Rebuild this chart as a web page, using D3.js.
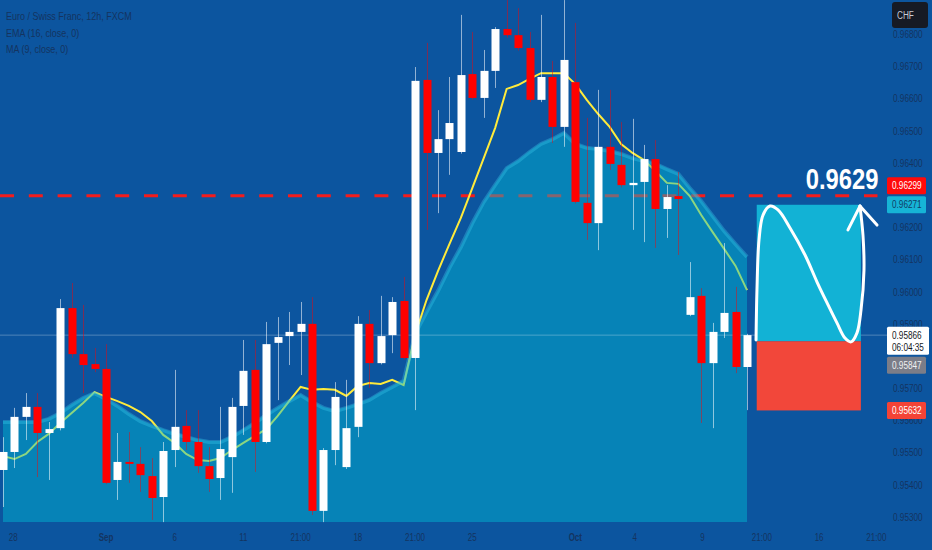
<!DOCTYPE html>
<html>
<head>
<meta charset="utf-8">
<script src="https://cdn.jsdelivr.net/npm/d3@7"></script>
<style>
html, body { margin: 0; padding: 0; background: #0c559f; overflow: hidden; }
text { font-family: "Liberation Sans", Arial, sans-serif; }
</style>
</head>
<body>
<svg width="932" height="550"></svg>
<script>
// 12h candles, [open, high, low, close]
const ohlc = [
  [0.95447, 0.95549, 0.95332, 0.95503], [0.95503, 0.95640, 0.95453, 0.95612],
  [0.95612, 0.95686, 0.95540, 0.95643], [0.95643, 0.95686, 0.95425, 0.95562],
  [0.95562, 0.95596, 0.95416, 0.95574], [0.95577, 0.95978, 0.95570, 0.95950],
  [0.95950, 0.96028, 0.95795, 0.95807], [0.95807, 0.95960, 0.95686, 0.95773],
  [0.95776, 0.95826, 0.95751, 0.95761], [0.95761, 0.95838, 0.95403, 0.95407],
  [0.95416, 0.95562, 0.95354, 0.95472], [0.95472, 0.95565, 0.95407, 0.95466],
  [0.95466, 0.95518, 0.95379, 0.95431], [0.95428, 0.95484, 0.95292, 0.95360],
  [0.95363, 0.95534, 0.95285, 0.95506], [0.95509, 0.95758, 0.95456, 0.95581],
  [0.95584, 0.95633, 0.95509, 0.95534], [0.95534, 0.95633, 0.95438, 0.95459],
  [0.95459, 0.95518, 0.95379, 0.95419], [0.95422, 0.95643, 0.95354, 0.95512],
  [0.95487, 0.95671, 0.95376, 0.95643], [0.95646, 0.95851, 0.95556, 0.95755],
  [0.95758, 0.95851, 0.95441, 0.95534], [0.95534, 0.95907, 0.95530, 0.95838],
  [0.95842, 0.95922, 0.95664, 0.95860], [0.95863, 0.95938, 0.95773, 0.95876],
  [0.95876, 0.95969, 0.95742, 0.95901], [0.95901, 0.95984, 0.95307, 0.95320],
  [0.95320, 0.95515, 0.95285, 0.95509], [0.95509, 0.95720, 0.95462, 0.95674],
  [0.95456, 0.95727, 0.95450, 0.95577], [0.95581, 0.95925, 0.95549, 0.95901],
  [0.95901, 0.95944, 0.95702, 0.95779], [0.95779, 0.95988, 0.95775, 0.95863],
  [0.95866, 0.95984, 0.95810, 0.95969], [0.95972, 0.96047, 0.95790, 0.95795],
  [0.95795, 0.96699, 0.95633, 0.96656], [0.96659, 0.96774, 0.96193, 0.96432],
  [0.96432, 0.96565, 0.96245, 0.96475], [0.96475, 0.96668, 0.96364, 0.96525],
  [0.96435, 0.96861, 0.96430, 0.96674], [0.96677, 0.96808, 0.96598, 0.96603],
  [0.96603, 0.96752, 0.96541, 0.96687], [0.96687, 0.96823, 0.96634, 0.96817],
  [0.96817, 0.96907, 0.96790, 0.96798], [0.96798, 0.96882, 0.96750, 0.96758],
  [0.96758, 0.96808, 0.96590, 0.96597], [0.96597, 0.96861, 0.96590, 0.96668],
  [0.96668, 0.96718, 0.96463, 0.96513], [0.96513, 0.96907, 0.96451, 0.96721],
  [0.96652, 0.96836, 0.96275, 0.96280], [0.96277, 0.96541, 0.96162, 0.96214],
  [0.96214, 0.96628, 0.96130, 0.96451], [0.96451, 0.96628, 0.96379, 0.96398],
  [0.96395, 0.96528, 0.96325, 0.96332], [0.96332, 0.96538, 0.96193, 0.96339],
  [0.96342, 0.96457, 0.96155, 0.96413], [0.96413, 0.96472, 0.96137, 0.96258],
  [0.96258, 0.96332, 0.96168, 0.96295], [0.96298, 0.96373, 0.96115, 0.96289],
  [0.95929, 0.96093, 0.95925, 0.95984], [0.95988, 0.96012, 0.95593, 0.95779],
  [0.95779, 0.95904, 0.95577, 0.95876], [0.95876, 0.96152, 0.95857, 0.95935],
  [0.95938, 0.96016, 0.95748, 0.95767], [0.95767, 0.95870, 0.95633, 0.95866]
];

// MA (9) - yellow line
const ma9 = [
  0.95490, 0.95481, 0.95497, 0.95534, 0.95559, 0.95593, 0.95624, 0.95655, 0.95689, 0.95674,
  0.95661, 0.95646, 0.95627, 0.95599, 0.95556, 0.95531, 0.95497, 0.95478, 0.95475, 0.95484,
  0.95509, 0.95531, 0.95553, 0.95574, 0.95615, 0.95661, 0.95705, 0.95696, 0.95699, 0.95696,
  0.95677, 0.95708, 0.95717, 0.95714, 0.95727, 0.95711, 0.95866, 0.95975, 0.96065, 0.96149,
  0.96230, 0.96323, 0.96416, 0.96510, 0.96631, 0.96643, 0.96662, 0.96680, 0.96680, 0.96680,
  0.96646, 0.96597, 0.96553, 0.96513, 0.96460, 0.96432, 0.96410, 0.96376, 0.96339, 0.96336,
  0.96298, 0.96239, 0.96186, 0.96134, 0.96081, 0.96006
];

// EMA (16) - shaded area
const ema16 = [
  0.95599, 0.95599, 0.95599, 0.95599, 0.95609, 0.95627, 0.95652, 0.95674, 0.95689, 0.95671,
  0.95649, 0.95624, 0.95602, 0.95587, 0.95574, 0.95562, 0.95553, 0.95543, 0.95537, 0.95537,
  0.95553, 0.95574, 0.95596, 0.95621, 0.95643, 0.95664, 0.95683, 0.95661, 0.95643, 0.95633,
  0.95643, 0.95655, 0.95668, 0.95689, 0.95708, 0.95727, 0.95873, 0.95941, 0.96006, 0.96078,
  0.96143, 0.96217, 0.96283, 0.96336, 0.96388, 0.96410, 0.96438, 0.96463, 0.96478, 0.96497,
  0.96463, 0.96451, 0.96447, 0.96441, 0.96432, 0.96419, 0.96410, 0.96401, 0.96385, 0.96370,
  0.96326, 0.96286, 0.96239, 0.96193, 0.96152, 0.96112
];

const priceTicks = [0.953, 0.954, 0.955, 0.956, 0.957, 0.958, 0.959, 0.960,
  0.961, 0.962, 0.963, 0.964, 0.965, 0.966, 0.967, 0.968];

// time axis: [bar index, label, bold]
const timeTicks = [
  [0.9, "28", false], [9, "Sep", true], [15, "6", false], [21, "11", false],
  [26, "21:00", false], [31, "18", false], [36, "21:00", false], [41, "25", false],
  [50, "Oct", true], [55.2, "4", false], [61.1, "9", false], [66.3, "21:00", false],
  [71.3, "16", false], [76.3, "21:00", false]
];

const legendLines = ["Euro / Swiss Franc, 12h, FXCM", "EMA (16, close, 0)", "MA (9, close, 0)"];

const resistance = { price: 0.96299, toIndex: 76.4, label: "0.9629" };
const lastPrice = { price: 0.95866, countdown: "06:04:35" };
const position = { from: 65.85, to: 74.95, target: 0.96271, entry: 0.95847, stop: 0.95632 };

// hand drawn path on the position tool: [bar index, price]
const scribble = [
  [65.79, 0.95851], [65.87, 0.96006], [66.05, 0.96162], [66.40, 0.96239], [67.01, 0.96267],
  [67.71, 0.96255], [68.76, 0.96199], [70.07, 0.96115], [71.12, 0.96031], [72.08, 0.95960],
  [72.86, 0.95904], [73.56, 0.95857], [74.09, 0.95845], [74.61, 0.95873], [74.96, 0.95944],
  [75.22, 0.96068], [75.13, 0.96177], [74.87, 0.96267]
];
const arrowBarbs = [[73.82, 0.96193], [76.36, 0.96208]];

const svg = d3.select("svg");
const width = +svg.attr("width");
const height = +svg.attr("height");
const paneBottom = 522;
const paneRight = 887;

const x = d3.scaleLinear().domain([0, 65]).range([3, 747]);
const y = d3.scaleLinear().domain([0.953, 0.967]).range([517.3, 66.7]);

const navy = "#14345f";

function condense(sel, k) {
  sel.each(function () {
    const w = this.getComputedTextLength();
    d3.select(this).attr("textLength", w * k).attr("lengthAdjust", "spacingAndGlyphs");
  });
}

svg.append("rect").attr("width", width).attr("height", height).attr("fill", "#0c559f");

// price tags on the scale, lower rank gives way
const tags = [
  { price: resistance.price, lines: ["0.96299"], fill: "#ff0a0a", ink: "#ffffff", rank: 1 },
  { price: position.target, lines: ["0.96271"], fill: "#16b4d6", ink: "#113c66", rank: 2 },
  { price: lastPrice.price, lines: ["0.95866", lastPrice.countdown], fill: "#ffffff", ink: "#131722", rank: 3 },
  { price: position.entry, lines: ["0.95847"], fill: "#7b7d88", ink: "#f0f0f0", rank: 1 },
  { price: position.stop, lines: ["0.95632"], fill: "#f44336", ink: "#ffffff", rank: 2 }
];
tags.forEach(t => { t.h = t.lines.length > 1 ? 28 : 17; t.top = y(t.price) - 8.5; });
tags.sort((a, b) => a.top - b.top);
for (let k = 1; k < tags.length; k++) {
  const a = tags[k - 1], b = tags[k];
  const overlap = a.top + a.h + 2 - b.top;
  if (overlap > 0) {
    if (a.rank >= b.rank) b.top += overlap;
    else a.top -= overlap;
  }
}

// price scale labels; the ones whose centre sits under a tag or the badge are skipped
const covered = v => y(v) < 30 || tags.some(t => y(v) >= t.top - 1 && y(v) <= t.top + t.h + 1);
svg.append("g").selectAll("text")
  .data(priceTicks.filter(v => !covered(v)))
  .join("text")
  .attr("x", 893)
  .attr("y", d => y(d) + 3.5)
  .attr("font-size", 10)
  .attr("fill", navy)
  .text(d => d3.format(".5f")(d))
  .call(condense, 0.82);

// resistance dashed ray (under the area)
svg.append("line")
  .attr("x1", 0).attr("x2", x(resistance.toIndex))
  .attr("y1", y(resistance.price)).attr("y2", y(resistance.price))
  .attr("stroke", "#f51c1c")
  .attr("stroke-width", 3)
  .attr("stroke-dasharray", "14,14.8");

// MA line (sits under the translucent area, so it turns green inside it)
svg.append("path")
  .datum(ma9)
  .attr("fill", "none")
  .attr("stroke", "#ffeb3b")
  .attr("stroke-width", 2)
  .attr("d", d3.line().x((d, i) => x(i)).y(d => y(d)));

// EMA area
svg.append("path")
  .datum(ema16)
  .attr("fill", "rgba(0,188,212,0.45)")
  .attr("d", d3.area().x((d, i) => x(i)).y0(paneBottom).y1(d => y(d)));

svg.append("path")
  .datum(ema16)
  .attr("fill", "none")
  .attr("stroke", "rgba(60,200,235,0.35)")
  .attr("stroke-width", 4)
  .attr("d", d3.line().x((d, i) => x(i)).y(d => y(d) + 1));

// last price line
svg.append("line")
  .attr("x1", 0).attr("x2", paneRight)
  .attr("y1", y(lastPrice.price)).attr("y2", y(lastPrice.price))
  .attr("stroke", "rgba(255,255,255,0.28)")
  .attr("stroke-width", 1);

// candles
const candle = svg.append("g").selectAll("g")
  .data(ohlc)
  .join("g");

candle.append("line")
  .attr("x1", (d, i) => Math.round(x(i)) + 0.5)
  .attr("x2", (d, i) => Math.round(x(i)) + 0.5)
  .attr("y1", d => y(d[1]))
  .attr("y2", d => y(d[2]))
  .attr("stroke", d => d[3] >= d[0] ? "rgba(255,255,255,0.55)" : "rgba(255,0,0,0.45)")
  .attr("stroke-width", 1);

candle.append("rect")
  .attr("x", (d, i) => Math.round(x(i)) - 3.5)
  .attr("width", 8)
  .attr("y", d => y(Math.max(d[0], d[3])))
  .attr("height", d => Math.max(1.5, Math.abs(y(d[0]) - y(d[3]))))
  .attr("fill", d => d[3] >= d[0] ? "#ffffff" : "#ff0000");

// long position tool
svg.append("rect")
  .attr("x", x(position.from)).attr("width", x(position.to) - x(position.from))
  .attr("y", y(position.target)).attr("height", y(position.entry) - y(position.target))
  .attr("fill", "#12b2d5");
svg.append("rect")
  .attr("x", x(position.from)).attr("width", x(position.to) - x(position.from))
  .attr("y", y(position.entry)).attr("height", y(position.stop) - y(position.entry))
  .attr("fill", "#f2473a");

svg.append("path")
  .datum(scribble)
  .attr("fill", "none")
  .attr("stroke", "#ffffff")
  .attr("stroke-width", 3)
  .attr("stroke-linecap", "round")
  .attr("d", d3.line().x(d => x(d[0])).y(d => y(d[1])).curve(d3.curveCatmullRom));

const tip = scribble[scribble.length - 1];
svg.append("g").selectAll("line")
  .data(arrowBarbs)
  .join("line")
  .attr("x1", x(tip[0])).attr("y1", y(tip[1]))
  .attr("x2", d => x(d[0])).attr("y2", d => y(d[1]))
  .attr("stroke", "#ffffff")
  .attr("stroke-width", 3)
  .attr("stroke-linecap", "round");

svg.append("text")
  .attr("x", x(resistance.toIndex) + 1)
  .attr("y", y(resistance.price) - 7)
  .attr("text-anchor", "end")
  .attr("font-family", "'Open Sans', sans-serif")
  .attr("font-weight", 600)
  .attr("font-size", 29)
  .attr("fill", "#ffffff")
  .text(resistance.label)
  .call(condense, 0.82);

const tag = svg.append("g").selectAll("g")
  .data(tags)
  .join("g")
  .attr("transform", d => `translate(887,${d.top})`);

tag.append("rect")
  .attr("width", d => d.lines.length > 1 ? 42 : 39)
  .attr("height", d => d.h)
  .attr("rx", 1.5)
  .attr("fill", d => d.fill);

tag.each(function (d) {
  d3.select(this).selectAll("text")
    .data(d.lines)
    .join("text")
    .attr("x", 5)
    .attr("y", (s, j) => 12 + j * 12.5)
    .attr("font-size", 10)
    .attr("fill", d.ink)
    .text(s => s)
    .call(condense, 0.82);
});

// currency badge
svg.append("rect")
  .attr("x", 892).attr("y", 2).attr("width", 36).attr("height", 26)
  .attr("rx", 3).attr("fill", "#161a25");
svg.append("text")
  .attr("x", 897).attr("y", 19)
  .attr("font-size", 10)
  .attr("fill", "#c8cbd3")
  .text("CHF")
  .call(condense, 0.82);

// legend
svg.append("g").selectAll("text")
  .data(legendLines)
  .join("text")
  .attr("x", 6)
  .attr("y", (d, i) => 20 + i * 16.5)
  .attr("font-size", 11.5)
  .attr("fill", navy)
  .text(d => d)
  .call(condense, 0.78);

// time axis
svg.append("g").selectAll("text")
  .data(timeTicks)
  .join("text")
  .attr("x", d => x(d[0]))
  .attr("y", 541)
  .attr("text-anchor", "middle")
  .attr("font-size", 10)
  .attr("font-weight", d => d[2] ? "bold" : "normal")
  .attr("fill", navy)
  .text(d => d[1])
  .call(condense, 0.8);
</script>
</body>
</html>
